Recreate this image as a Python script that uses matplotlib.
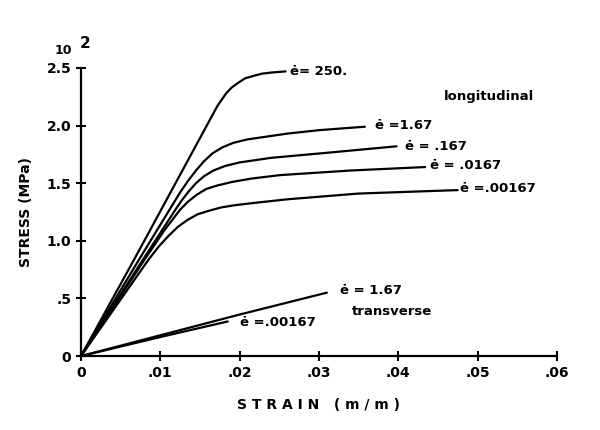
import matplotlib.pyplot as plt

# longitudinal stress-strain curves (strain m/m, stress x10^2 MPa)
x_250 = [0, .0068, .0172, .0178, .0183, .0190, .0198, .0207, .0217, .0228, .0240, .0258]
y_250 = [0, .85, 2.17, 2.23, 2.28, 2.33, 2.37, 2.41, 2.43, 2.45, 2.46, 2.47]

x_167 = [0, .0073, .0125, .0135, .0145, .0155, .0166, .0178, .0192, .0210, .0230, .0260, .0300, .0358]
y_167 = [0, .835, 1.42, 1.52, 1.61, 1.69, 1.76, 1.81, 1.85, 1.88, 1.90, 1.93, 1.96, 1.99]

x_0167 = [0, .0078, .0120, .0128, .0136, .0145, .0155, .0167, .0182, .0200, .0240, .0320, .0398]
y_0167 = [0, .835, 1.28, 1.36, 1.43, 1.50, 1.56, 1.61, 1.65, 1.68, 1.72, 1.77, 1.82]

x_00167 = [0, .0080, .0105, .0115, .0125, .0135, .0146, .0158, .0172, .0190, .0215, .0251, .0340, .0434]
y_00167 = [0, .835, 1.09, 1.18, 1.27, 1.34, 1.40, 1.45, 1.48, 1.51, 1.54, 1.57, 1.61, 1.64]

x_000167 = [0, .0085, .0098, .0110, .0122, .0134, .0147, .0161, .0177, .0195, .0220, .0260, .0350, .0475]
y_000167 = [0, .835, .95, 1.04, 1.12, 1.18, 1.23, 1.26, 1.29, 1.31, 1.33, 1.36, 1.41, 1.44]

# transverse
xt_167 = [0, .010, .020, .031]
yt_167 = [0, .18, .36, .55]
xt_00167 = [0, .010, .0185]
yt_00167 = [0, .165, .30]

xticks = [0, .01, .02, .03, .04, .05, .06]
xtick_labels = ['0', '.01', '.02', '.03', '.04', '.05', '.06']
yticks = [0, .5, 1.0, 1.5, 2.0, 2.5]
ytick_labels = ['0', '.5', '1.0', '1.5', '2.0', '2.5']

fig = plt.figure(figsize=(6, 4.3), dpi=100)
ax = fig.add_axes([0.135, 0.172, 0.793, 0.670])

for xs, ys in [(x_250, y_250), (x_167, y_167), (x_0167, y_0167),
               (x_00167, y_00167), (x_000167, y_000167),
               (xt_167, yt_167), (xt_00167, yt_00167)]:
    ax.plot(xs, ys, color='black', lw=1.6, solid_capstyle='round',
            solid_joinstyle='round')

ax.set_xlim(0, 0.06)
ax.set_ylim(0, 2.5)
ax.spines['top'].set_visible(False)
ax.spines['right'].set_visible(False)
ax.spines['left'].set_linewidth(1.6)
ax.spines['bottom'].set_linewidth(1.6)
ax.set_xticks(xticks)
ax.set_xticklabels(xtick_labels)
ax.set_yticks(yticks)
ax.set_yticklabels(ytick_labels)
ax.tick_params(direction='inout', length=7, width=1.5, labelsize=10)
for lab in ax.get_xticklabels() + ax.get_yticklabels():
    lab.set_fontweight('bold')

ax.set_xlabel('S T R A I N   ( m / m )', fontsize=10, fontweight='bold', labelpad=13)
ax.set_ylabel('STRESS (MPa)', fontsize=10, fontweight='bold', labelpad=10)

fs = 9.5
ax.text(.0264, 2.47, 'ė= 250.', fontsize=fs, fontweight='bold', va='center')
ax.text(.0371, 2.00, 'ė =1.67', fontsize=fs, fontweight='bold', va='center')
ax.text(.0409, 1.82, 'ė = .167', fontsize=fs, fontweight='bold', va='center')
ax.text(.0440, 1.65, 'ė = .0167', fontsize=fs, fontweight='bold', va='center')
ax.text(.0478, 1.45, 'ė =.00167', fontsize=fs, fontweight='bold', va='center')
ax.text(.0457, 2.25, 'longitudinal', fontsize=fs, fontweight='bold', va='center')
ax.text(.0327, 0.57, 'ė = 1.67', fontsize=fs, fontweight='bold', va='center')
ax.text(.0342, 0.39, 'transverse', fontsize=fs, fontweight='bold', va='center')
ax.text(.0200, 0.29, 'ė =.00167', fontsize=fs, fontweight='bold', va='center')

ax.text(-0.019, 1.062, '10', transform=ax.transAxes, fontsize=9, fontweight='bold',
        ha='right', va='center')
ax.text(-0.002, 1.085, '2', transform=ax.transAxes, fontsize=11, fontweight='bold',
        ha='left', va='center')

fig.savefig('out.png', dpi=100)
